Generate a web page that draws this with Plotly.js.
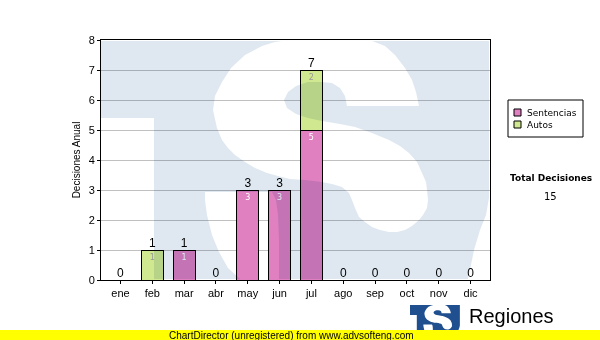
<!DOCTYPE html>
<html>
<head>
<meta charset="utf-8">
<script src="https://cdn.plot.ly/plotly-3.0.1.min.js"></script>
<style>
html,body{margin:0;padding:0;background:#fff;}
#chart{width:600px;height:340px;}
</style>
</head>
<body>
<div id="chart"></div>
<script>
// ---- data ----
const months = ['ene','feb','mar','abr','may','jun','jul','ago','sep','oct','nov','dic'];
const sentencias = [0,0,1,0,3,3,5,0,0,0,0,0];
const autos = [0,1,0,0,0,0,2,0,0,0,0,0];
const seriesNames = ['Sentencias','Autos'];
const yAxisTitle = 'Decisiones Anual';
const totalLabel = 'Total Decisiones';

const totals = months.map((m,i)=>sentencias[i]+autos[i]);
const grandTotal = totals.reduce((a,b)=>a+b,0);

// ---- geometry helpers (pixel -> paper) ----
const L=101, R=490, T=40, B=280;
const px = x => (x-L)/(R-L);
const py = y => (B-y)/(B-T);
function poly(pts, tf){
  return pts.map((p,i)=>{const q=tf?tf(p):p; return (i?'L':'M')+px(q[0]).toFixed(5)+','+py(q[1]).toFixed(5);}).join('')+'Z';
}
// watermark logo outline (pixel space of the plot background)
const wmOuter=[[101,41],[489,41],[489,279],[101,279]];
const holeA=[[101,118],[154,118],[154,279],[101,279]];
const holeB=[[282,41],[372,41],[385,46],[395,55],[405,68],[412,80],[416,92],[419,106],[347,106],[345,96],[340,88],[332,83],[322,82],[308,82],[296,86],[288,92],[284,100],[287,108],[296,114],[308,118],[322,121],[340,124],[355,127],[372,133],[389,140],[400,146],[409,153],[417,162],[422,173],[426,182],[427,190],[428,200],[427,208],[423,215],[419,220],[412,226],[405,230],[397,232],[389,232],[380,230],[372,227],[365,222],[359,217],[355,208],[352,200],[349,193],[342,187],[332,184],[322,182],[305,180],[290,179],[278,176],[267,173],[255,168],[245,162],[235,155],[228,148],[222,140],[217,128],[213,110],[215,96],[222,82],[231,68],[245,55],[262,46],[275,42]];
const holeC=[[205,192],[272,192],[276,200],[278,215],[279,240],[279,279],[240,279],[228,268],[219,252],[212,235],[207,215],[205,200]];
const holeD=[[489,198],[486,215],[480,230],[474,250],[470,270],[468,279],[489,279]];
const wmPath = [wmOuter,holeA,holeB,holeC,holeD].map(p=>poly(p)).join(' ');
const s = 50/389;
const logoTf = p => [410+(p[0]-101)*s, 305+(p[1]-41)*s];
const logoPath = [wmOuter,holeA,holeB,holeC,holeD].map(p=>poly(p,logoTf)).join(' ');

const FONT = 'Arial, "Liberation Sans", sans-serif';
const TFONT = 'Tahoma, "DejaVu Sans", sans-serif';

const traces = [
  {type:'bar', name:seriesNames[0], x:months, y:sentencias,
   marker:{color:'#e080c0', line:{color:'#000', width:1}},
   text:sentencias.map(v=>v?String(v):''), textposition:'inside', insidetextanchor:'end',
   textangle:0, constraintext:'none',
   textfont:{color:'#ffffff', size:8, family:TFONT}, hoverinfo:'skip', showlegend:false},
  {type:'bar', name:seriesNames[1], x:months, y:autos,
   marker:{color:'#d0e890', line:{color:'#000', width:1}},
   text:autos.map(v=>v?String(v):''), textposition:'inside', insidetextanchor:'end',
   textangle:0, constraintext:'none',
   textfont:{color:'#999999', size:8, family:TFONT}, hoverinfo:'skip', showlegend:false},
  {type:'scatter', mode:'text', x:months, y:totals, text:totals.map(String),
   textposition:'top center', textfont:{size:12, color:'#000', family:FONT},
   cliponaxis:false, showlegend:false, hoverinfo:'skip'}
];

const shapes = [
  {type:'path', xref:'paper', yref:'paper', path:wmPath, fillcolor:'#dfe8f1', fillrule:'evenodd', line:{width:0}, layer:'above'},
  {type:'path', xref:'paper', yref:'paper', path:logoPath, fillcolor:'#1f4f8f', fillrule:'evenodd', line:{width:0}, layer:'above'},
  {type:'rect', xref:'paper', yref:'paper', x0:px(0), x1:px(600), y0:py(330), y1:py(341), fillcolor:'#ffff00', line:{width:0}, layer:'above'},
  // legend box
  {type:'rect', xref:'paper', yref:'paper', x0:px(508), x1:px(583), y0:py(100), y1:py(137), fillcolor:'rgba(0,0,0,0)', line:{color:'#000', width:1}, layer:'above'},
  {type:'rect', xref:'paper', yref:'paper', x0:px(514), x1:px(521), y0:py(109), y1:py(116), fillcolor:'#e080c0', line:{color:'#000', width:1}, layer:'above'},
  {type:'rect', xref:'paper', yref:'paper', x0:px(514), x1:px(521), y0:py(121), y1:py(128), fillcolor:'#d0e890', line:{color:'#000', width:1}, layer:'above'}
];

const annotations = [
  {xref:'paper', yref:'paper', x:px(525), y:py(113), text:seriesNames[0], showarrow:false, xanchor:'left', yanchor:'middle', font:{family:TFONT, size:9, color:'#000'}},
  {xref:'paper', yref:'paper', x:px(525), y:py(125), text:seriesNames[1], showarrow:false, xanchor:'left', yanchor:'middle', font:{family:TFONT, size:9, color:'#000'}},
  {xref:'paper', yref:'paper', x:px(551), y:py(178), text:'<b>'+totalLabel+'</b>', showarrow:false, xanchor:'center', yanchor:'middle', font:{family:TFONT, size:9, color:'#000'}},
  {xref:'paper', yref:'paper', x:px(550), y:py(196), text:String(grandTotal), showarrow:false, xanchor:'center', yanchor:'middle', font:{family:TFONT, size:10, color:'#000'}},
  {xref:'paper', yref:'paper', x:px(467), y:py(316), text:'Regiones', showarrow:false, xanchor:'left', yanchor:'middle', font:{family:FONT, size:20, color:'#000'}},
  {xref:'paper', yref:'paper', x:px(291), y:py(335), text:'ChartDirector (unregistered) from www.advsofteng.com', showarrow:false, xanchor:'center', yanchor:'middle', font:{family:FONT, size:10, color:'#000'}}
];

const layout = {
  width:600, height:340,
  margin:{l:L, r:600-R, t:T, b:340-B, pad:0},
  paper_bgcolor:'#fff', plot_bgcolor:'#fff',
  barmode:'stack', bargap:0.31,
  showlegend:false,
  xaxis:{type:'category', showline:true, linecolor:'#000', linewidth:1, mirror:true,
         ticks:'outside', ticklen:3, tickcolor:'#000', showgrid:false,
         tickfont:{family:FONT, size:11, color:'#000'}, fixedrange:true},
  yaxis:{range:[0,8], dtick:1, showline:true, linecolor:'#000', linewidth:1, mirror:true,
         ticks:'outside', ticklen:3, tickcolor:'#000', showgrid:true, gridcolor:'#c0c0c0', gridwidth:1,
         zeroline:false, tickfont:{family:FONT, size:11, color:'#000'},
         title:{text:yAxisTitle, font:{family:FONT, size:10, color:'#000'}, standoff:6}, fixedrange:true},
  shapes:shapes, annotations:annotations
};

Plotly.newPlot('chart', traces, layout, {displayModeBar:false, staticPlot:true}).then(()=>{
  const svgs = document.querySelectorAll('#chart .main-svg');
  if (svgs.length>1) svgs[1].style.mixBlendMode = 'multiply';
});
</script>
</body>
</html>
